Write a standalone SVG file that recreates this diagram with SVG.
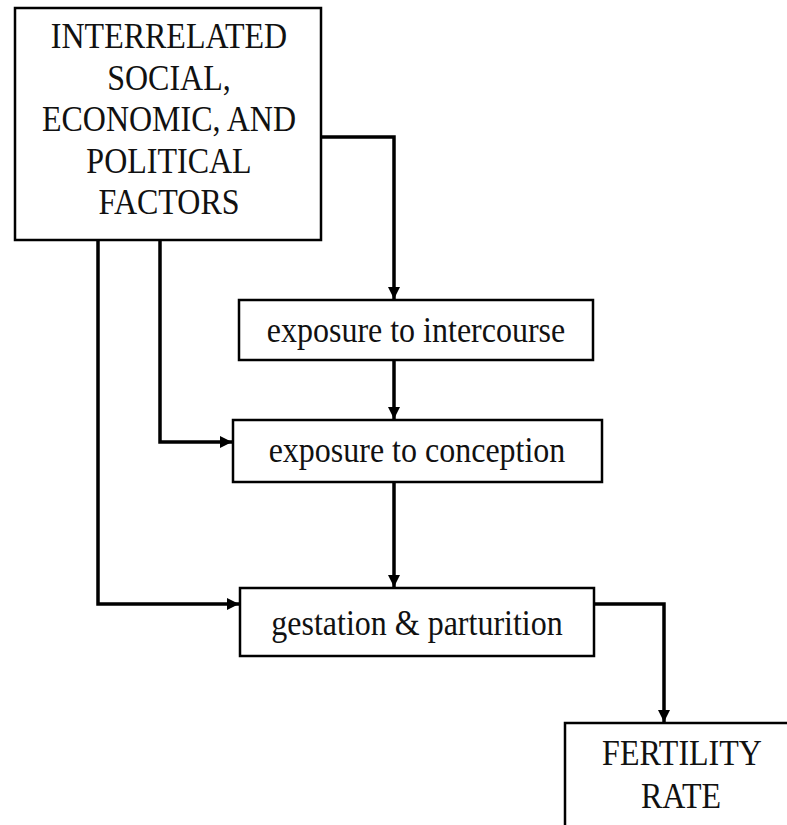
<svg xmlns="http://www.w3.org/2000/svg" width="787" height="825" viewBox="0 0 787 825">
<style>
.box{fill:#fff;stroke:#000;stroke-width:2.5}
.t{font-family:'Liberation Serif','DejaVu Serif',serif;font-size:32px;fill:#111;text-anchor:middle}
.c{fill:none;stroke:#000;stroke-width:3.5}
</style>
<defs>
<marker id="ah" viewBox="0 0 12 12" refX="12" refY="6" markerWidth="12" markerHeight="12" markerUnits="userSpaceOnUse" orient="auto">
<path d="M0,0 L12,6 L0,12 z" fill="#000"/>
</marker>
</defs>
<rect width="787" height="825" fill="#fff"/>
<g id="factors">
<rect class="box" x="15" y="8" width="306" height="232"/>
<g transform="translate(0,-5) scale(1,1.1)">
<text class="t" x="169" y="48">INTERRELATED</text>
<text class="t" x="169" y="86">SOCIAL,</text>
<text class="t" x="169" y="124">ECONOMIC, AND</text>
<text class="t" x="169" y="161.5">POLITICAL</text>
<text class="t" x="169" y="199">FACTORS</text>
</g>
</g>
<g id="intercourse">
<rect class="box" x="239" y="300" width="354" height="60"/>
<text class="t" x="416" y="342" transform="translate(0,342) scale(1,1.1) translate(0,-342)">exposure to intercourse</text>
</g>
<g id="conception">
<rect class="box" x="233" y="420" width="369" height="62"/>
<text class="t" x="417" y="462" transform="translate(0,462) scale(1,1.1) translate(0,-462)">exposure to conception</text>
</g>
<g id="gestation">
<rect class="box" x="240" y="588" width="354" height="68"/>
<text class="t" x="417" y="635" transform="translate(0,635) scale(1,1.1) translate(0,-635)">gestation &amp; parturition</text>
</g>
<g id="fertility">
<rect class="box" x="565" y="723" width="240" height="120"/>
<text class="t" x="682" y="765" transform="translate(0,765) scale(1,1.1) translate(0,-765)">FERTILITY</text>
<text class="t" x="681" y="808" transform="translate(0,808) scale(1,1.1) translate(0,-808)">RATE</text>
</g>
<g id="connectors">
<path class="c" d="M321,137 H394 V299" marker-end="url(#ah)"/>
<path class="c" d="M160,240 V442 H232" marker-end="url(#ah)"/>
<path class="c" d="M98,240 V604 H239" marker-end="url(#ah)"/>
<path class="c" d="M394,360 V419" marker-end="url(#ah)"/>
<path class="c" d="M394,482 V587" marker-end="url(#ah)"/>
<path class="c" d="M594,604 H664 V722" marker-end="url(#ah)"/>
</g>
</svg>
